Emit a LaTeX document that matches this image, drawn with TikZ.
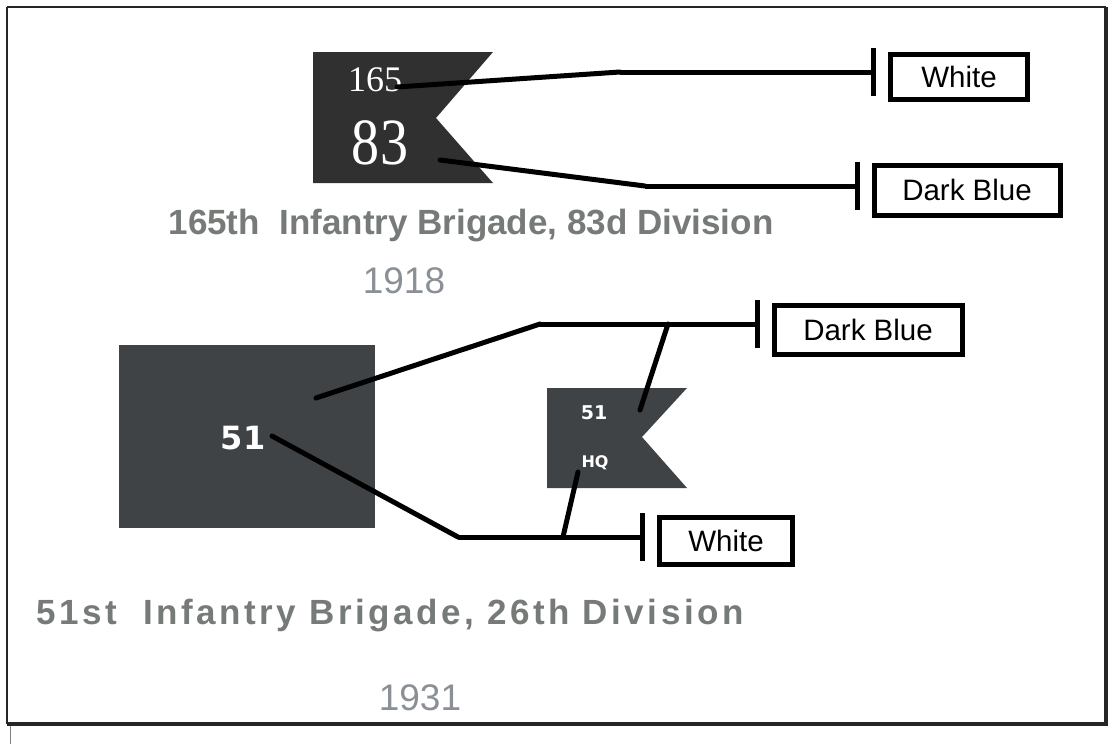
\documentclass[tikz,border=0pt]{standalone}
\usepackage{fontspec}
\setmainfont{Liberation Sans}
\newfontfamily\flagfont{Liberation Serif}
\newfontfamily\blockfont{DejaVu Sans}
\newfontfamily\widefont[LetterSpace=10]{Liberation Sans}
\usetikzlibrary{shapes,arrows.meta,positioning,calc}
\definecolor{framecolor}{RGB}{38,38,38}
\definecolor{flagcolor}{RGB}{48,48,48}
\definecolor{blockcolor}{RGB}{64,67,70}
\definecolor{titlecolor}{RGB}{118,123,120}
\definecolor{yearcolor}{RGB}{138,144,150}

\tikzset{
colorbox/.style={draw=black, line width=5pt, fill=white, inner sep=0pt,
  font=\fontsize{29.5}{31}\selectfont},
link/.style={line width=5pt, line cap=round},
tee/.style={line width=5pt, -{Bar[width=48pt,line width=5pt]}, shorten >=12pt},
titletext/.style={text=titlecolor, font=\fontsize{35}{38}\selectfont\bfseries},
yeartext/.style={text=yearcolor, font=\fontsize{37}{40}\selectfont}
}

\begin{document}
\begin{tikzpicture}[x=1pt,y=-1pt]

\useasboundingbox (0,0) rectangle (1110,744);
\fill[white] (0,0) rectangle (1110,744);

% Frame
\draw[framecolor, line width=2.5pt] (7,7) -- (7,724);
\draw[framecolor, line width=2.5pt] (7,7) -- (1106,7);
\draw[framecolor, line width=3.5pt] (7,724) -- (1106,724) -- (1106,7);
\draw[gray, line width=0.8pt] (10,726) -- (10,744);

% 1918 pennant
\fill[flagcolor] (313,52) -- (493,52) -- (436,118) -- (493,183) -- (313,183) -- cycle;
\node[text=white, font=\flagfont\fontsize{36}{38}\selectfont] (num165) at (375,80) {165};
\node[text=white, font=\flagfont\fontsize{66}{68}\selectfont] (num83) at (380,143)
{\scalebox{0.85}[1]{83}};

% Colour boxes, 1918
\node[colorbox, minimum width=137pt, minimum height=45pt] (white1) at (959,77) {White};
\node[colorbox, minimum width=186pt, minimum height=50pt] (blue1) at (967,190) {Dark Blue};

\coordinate (from165) at (397,87);
\coordinate (bend165) at (620,72);
\coordinate (from83) at (440,160);
\coordinate (bend83) at (645,186);

\draw[link] (from165) -- (bend165);
\draw[tee] (bend165) -- (bend165 -| white1.west);
\draw[link] (from83) -- (bend83);
\draw[tee] (bend83) -- (bend83 -| blue1.west);

\node[titletext] (title1) at (471,226) {165th\ \ Infantry Brigade, 83d Division};
\node[yeartext] (year1) at (404,281) {1918};

% 1931 square and pennant
\node[fill=blockcolor, minimum width=256pt, minimum height=183pt, inner sep=0pt]
(square51) at (247,436.5) {};
\node[text=white, font=\blockfont\fontsize{32}{34}\selectfont\bfseries] (num51) at (243,438) {51};

\fill[blockcolor] (547,388) -- (687,388) -- (642,437) -- (687,488) -- (547,488) -- cycle;
\node[text=white, font=\blockfont\fontsize{19}{20}\selectfont\bfseries] (hq51) at (594,413) {51};
\node[text=white, font=\blockfont\fontsize{16}{17}\selectfont\bfseries] (hq) at (595,463) {HQ};

% Colour boxes, 1931
\node[colorbox, minimum width=188pt, minimum height=49pt] (blue2) at (868,330) {Dark Blue};
\node[colorbox, minimum width=133pt, minimum height=47pt] (white2) at (726,541) {White};

\coordinate (fromsq) at (316,398);
\coordinate (bendsq) at (540,324);
\coordinate (fromnum) at (272,436);
\coordinate (bendnum) at (458,537);
\coordinate (frompen) at (640,410);
\coordinate (joinpen) at (668,324);
\coordinate (fromhq) at (578,472);
\coordinate (joinhq) at (563,537);

\draw[link] (fromsq) -- (bendsq);
\draw[tee] (bendsq) -- (bendsq -| blue2.west);
\draw[link] (frompen) -- (joinpen);
\draw[link] (fromnum) -- (bendnum);
\draw[tee] (bendnum) -- (bendnum -| white2.west);
\draw[link] (fromhq) -- (joinhq);

\node[titletext, font=\widefont\fontsize{35}{38}\selectfont\bfseries] (title2) at (390,616)
{51st\ \ Infantry Brigade, 26th Division};
\node[yeartext] (year2) at (420,698) {1931};

\end{tikzpicture}
\end{document}
